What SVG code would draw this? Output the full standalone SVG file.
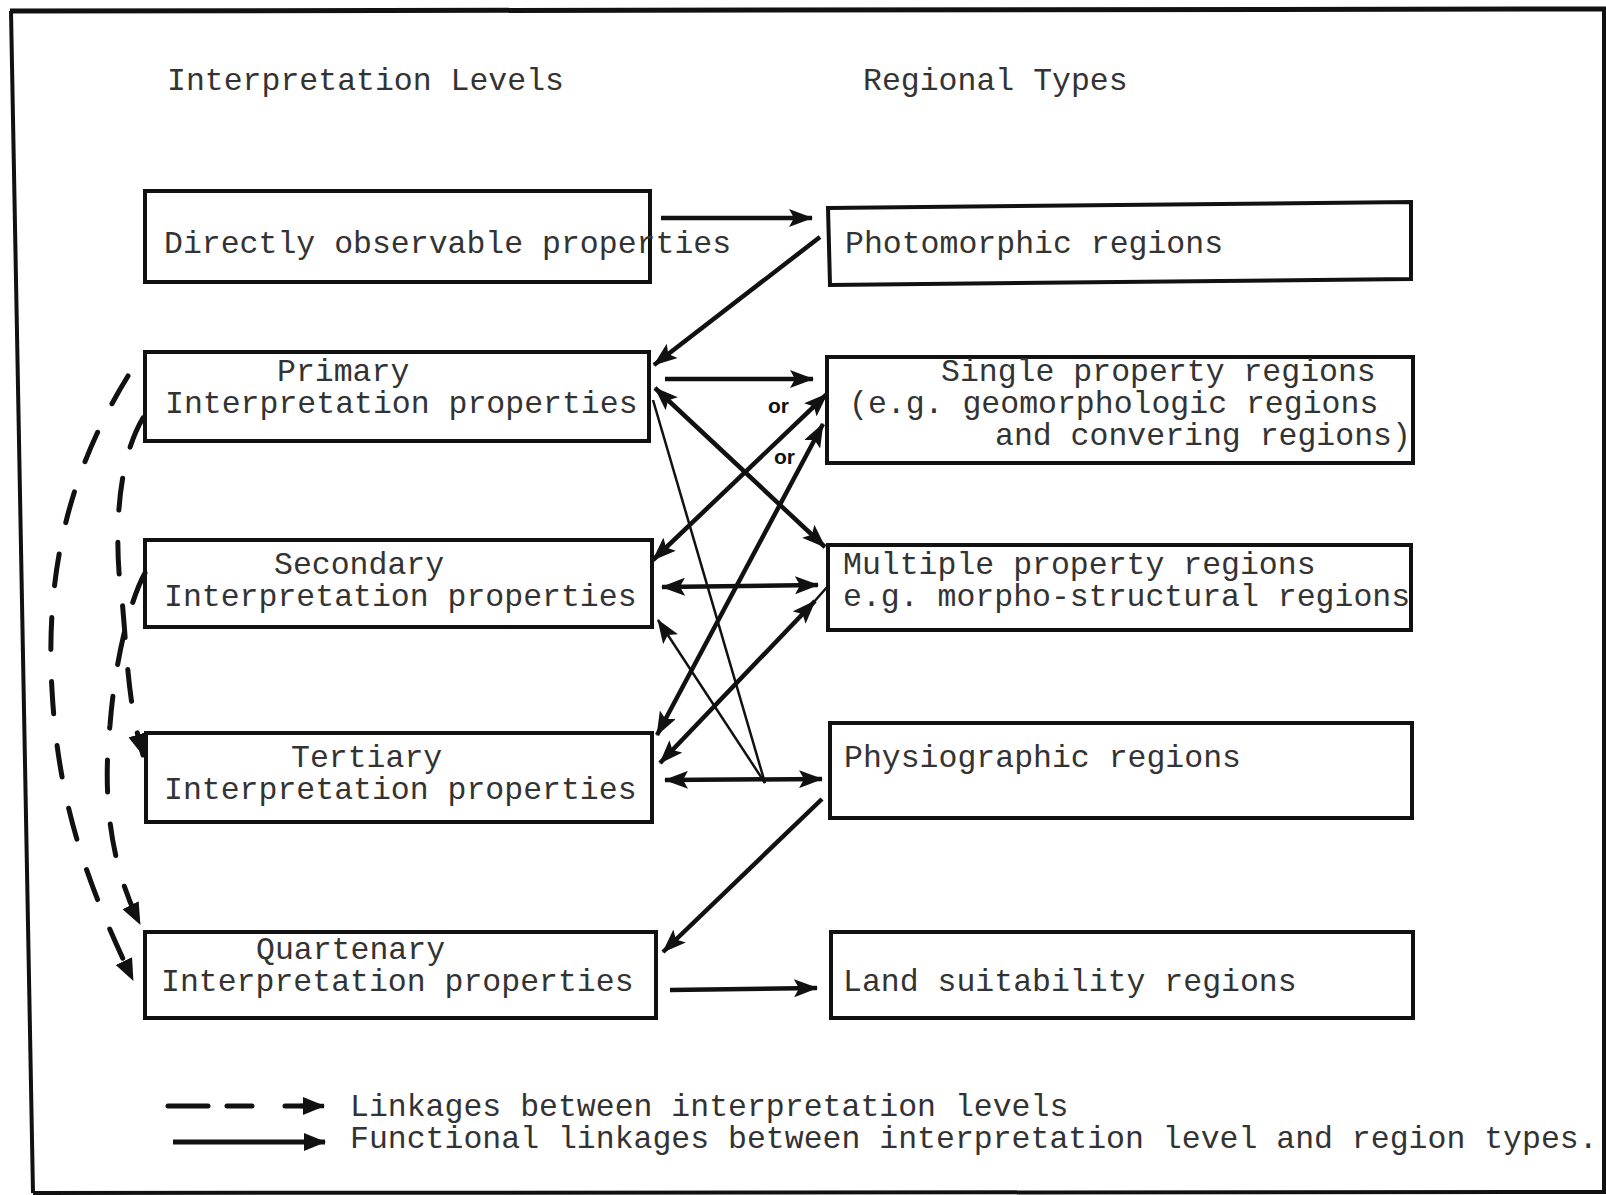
<svg xmlns="http://www.w3.org/2000/svg" width="1606" height="1195" viewBox="0 0 1606 1195">
<style>
  text { font-family: "Liberation Mono", "Courier New", monospace; font-size: 31.5px; fill: #333; }
  .box { fill: none; stroke: #111; stroke-width: 4; }
  .ln { fill: none; stroke: #111; stroke-width: 4.5; }
  .thin { fill: none; stroke: #111; stroke-width: 2.5; }
  .dash { fill: none; stroke: #111; stroke-width: 5; stroke-dasharray: 32 32; stroke-linecap: round; }
  .or { font-family: "Liberation Sans", Arial, sans-serif; font-size: 21px; font-weight: bold; fill: #111; }
  .frame { fill: none; stroke: #111; stroke-width: 4; }
</style>
<defs>
  <marker id="ah" viewBox="0 0 24 18" refX="23" refY="9" markerWidth="24" markerHeight="18" markerUnits="userSpaceOnUse" orient="auto-start-reverse">
    <path d="M0,0 L24,9 L0,18 L5,9 z" fill="#111"/>
  </marker>
  <marker id="ahs" viewBox="0 0 22 18" refX="21" refY="9" markerWidth="22" markerHeight="18" markerUnits="userSpaceOnUse" orient="auto">
    <path d="M0,0 L22,9 L0,18 z" fill="#111"/>
  </marker>
</defs>

<rect x="0" y="0" width="1606" height="1195" fill="#fff"/>
<g id="frame">
  <path class="frame" style="stroke-width:5" d="M10,11 L1606,9"/>
  <path class="frame" d="M11,11 L33,1193"/>
  <path class="frame" d="M1604,9 L1604,1193"/>
  <path class="frame" d="M33,1193 L1606,1192"/>
</g>

<g id="headers">
  <text x="167" y="90">Interpretation Levels</text>
  <text x="863" y="90">Regional Types</text>
</g>

<g id="n-direct">
  <rect class="box" x="145" y="191" width="505" height="91"/>
  <text x="164" y="253">Directly observable properties</text>
</g>
<g id="n-photo">
  <path class="box" d="M828,208 L1411,202 L1411,279 L830,285 Z"/>
  <text x="845" y="253">Photomorphic regions</text>
</g>
<g id="n-primary">
  <rect class="box" x="145" y="352" width="504" height="89"/>
  <text x="277" y="381">Primary</text>
  <text x="165" y="413">Interpretation properties</text>
</g>
<g id="n-single">
  <rect class="box" x="827" y="357" width="586" height="106"/>
  <text x="941" y="381">Single property regions</text>
  <text x="849" y="413">(e.g. geomorphologic regions</text>
  <text x="995" y="445">and convering regions)</text>
</g>
<g id="n-secondary">
  <rect class="box" x="145" y="540" width="507" height="87"/>
  <text x="274" y="574">Secondary</text>
  <text x="164" y="606">Interpretation properties</text>
</g>
<g id="n-multiple">
  <rect class="box" x="828" y="545" width="583" height="85"/>
  <text x="843" y="574">Multiple property regions</text>
  <text x="843" y="606">e.g. morpho-structural regions</text>
</g>
<g id="n-tertiary">
  <rect class="box" x="146" y="733" width="506" height="89"/>
  <text x="291" y="767">Tertiary</text>
  <text x="164" y="799">Interpretation properties</text>
</g>
<g id="n-physio">
  <rect class="box" x="830" y="723" width="582" height="95"/>
  <text x="844" y="767">Physiographic regions</text>
</g>
<g id="n-quart">
  <rect class="box" x="145" y="932" width="511" height="86"/>
  <text x="256" y="959">Quartenary</text>
  <text x="161" y="991">Interpretation properties</text>
</g>
<g id="n-land">
  <rect class="box" x="831" y="932" width="582" height="86"/>
  <text x="843" y="991">Land suitability regions</text>
</g>

<g id="connectors">
  <path class="ln" d="M661,218 L812,218" marker-end="url(#ah)"/>
  <path class="ln" d="M820,237 L654,365" marker-end="url(#ah)"/>
  <path class="ln" d="M665,379 L813,379" marker-end="url(#ah)"/>
  <path class="ln" d="M655,388 L825,547" marker-start="url(#ah)" marker-end="url(#ah)"/>
  <path class="ln" d="M653,560 L827,394" marker-start="url(#ah)" marker-end="url(#ah)"/>
  <path class="ln" d="M657,735 L823,424" marker-start="url(#ah)" marker-end="url(#ah)"/>
  <path class="thin" d="M653,400 L765,783"/>
  <path class="thin" d="M765,783 L658,620" marker-end="url(#ah)"/>
  <path class="ln" d="M662,587 L818,585" marker-start="url(#ah)" marker-end="url(#ah)"/>
  <path class="ln" d="M660,763 L815,601" marker-start="url(#ah)" marker-end="url(#ah)"/>
  <path class="thin" d="M813,603 L828,586"/>
  <path class="ln" d="M665,780 L822,779" marker-start="url(#ah)" marker-end="url(#ah)"/>
  <path class="ln" d="M822,799 L663,952" marker-end="url(#ah)"/>
  <path class="ln" d="M670,990 L817,988" marker-end="url(#ah)"/>
  <text class="or" x="768" y="413">or</text>
  <text class="or" x="774" y="464">or</text>
  <path class="dash" d="M128,376 C 70,470 45,570 52,690 C 58,800 85,880 133,980" marker-end="url(#ahs)"/>
  <path class="dash" d="M143,418 C 112,470 116,560 122,600 C 127,650 127,700 143,755" marker-end="url(#ahs)"/>
  <path class="dash" d="M145,573 C 130,600 115,660 110,725 C 103,790 108,860 140,924" marker-end="url(#ahs)"/>
</g>

<g id="legend">
  <path class="dash" d="M168,1106 L308,1106" style="stroke-dasharray: 40 19 25 33 25" />
  <path class="ln" d="M300,1106 L324,1106" marker-end="url(#ahs)"/>
  <path class="ln" style="stroke-width:5" d="M173,1142 L325,1142" marker-end="url(#ahs)"/>
  <text x="350" y="1116">Linkages between interpretation levels</text>
  <text x="350" y="1148">Functional linkages between interpretation level and region types.</text>
</g>
</svg>
